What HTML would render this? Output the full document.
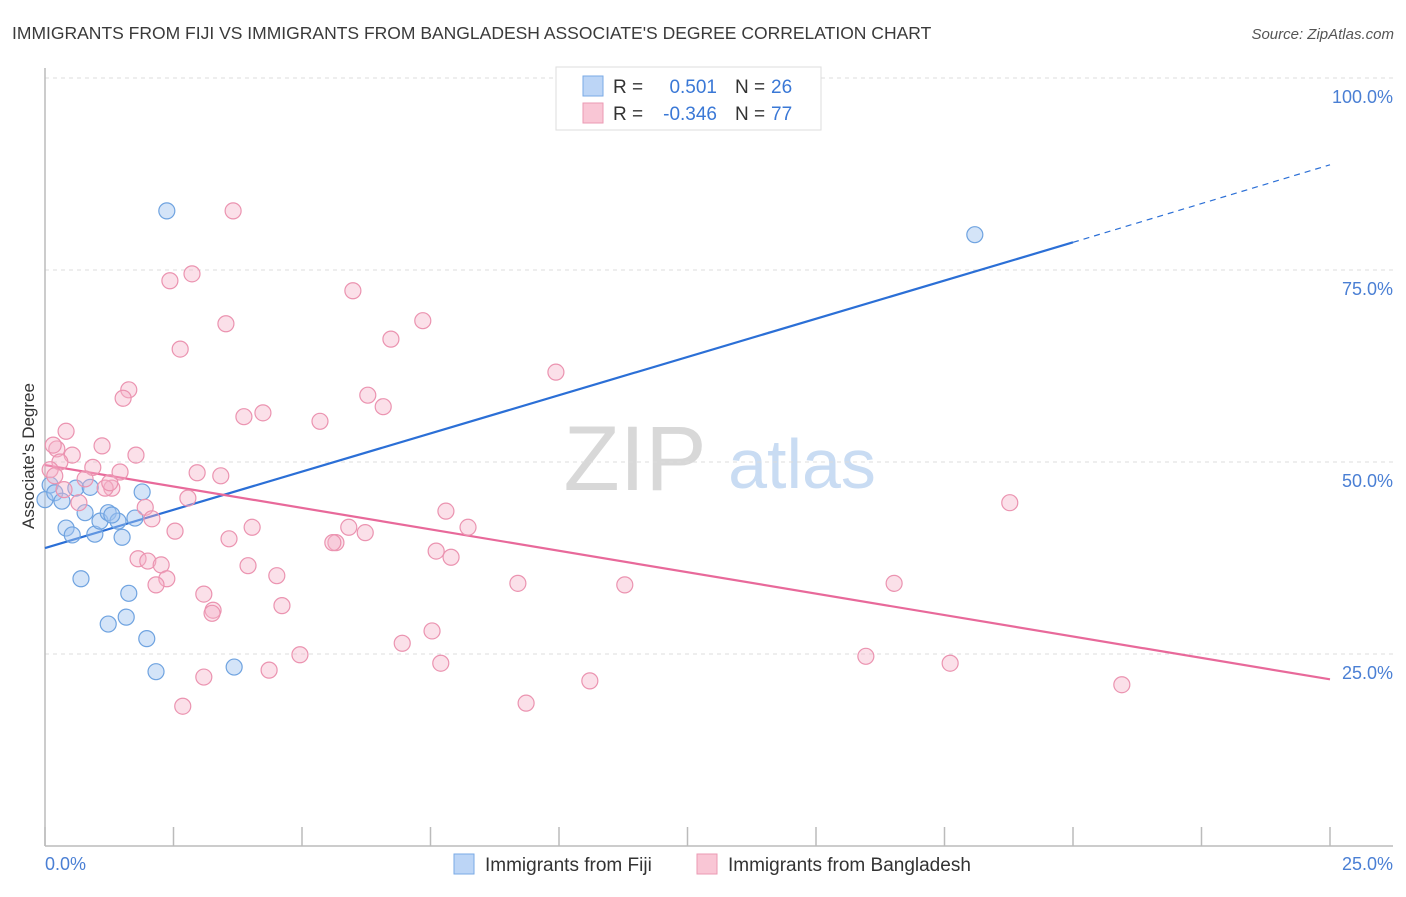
<!DOCTYPE html>
<html><head><meta charset="utf-8"><style>
body{margin:0;background:#fff;font-family:"Liberation Sans",sans-serif;}
svg text{font-family:"Liberation Sans",sans-serif;}
</style></head><body>
<svg id="chart" width="1406" height="892" xmlns="http://www.w3.org/2000/svg">
<text x="12" y="39" font-size="17.5" fill="#3a3a3a">IMMIGRANTS FROM FIJI VS IMMIGRANTS FROM BANGLADESH ASSOCIATE'S DEGREE CORRELATION CHART</text>
<text x="1394" y="39" font-size="15" font-style="italic" fill="#555" text-anchor="end">Source: ZipAtlas.com</text>
<g>
<text x="635" y="490" font-size="92" font-family="Liberation Serif" fill="#d8d8d8" text-anchor="middle">ZIP</text>
<text x="802" y="488" font-size="70" fill="#c9dcf3" text-anchor="middle">atlas</text>
</g>
<g id="grid"></g>
<g id="axes"></g>
<g id="lines"></g>
<g id="pts"></g>
<text transform="translate(34,456) rotate(-90)" font-size="17" fill="#333" text-anchor="middle">Associate's Degree</text>
<g>
<rect x="556" y="67" width="265" height="63" fill="#fff" stroke="#ddd"/>
<rect x="583" y="76" width="20" height="20" fill="#bcd5f6" stroke="#7aaae6"/>
<rect x="583" y="103" width="20" height="20" fill="#f9c6d5" stroke="#eb9ab3"/>
<text x="613" y="93" font-size="19" fill="#333">R =</text>
<text x="717" y="93" font-size="19" fill="#3a78d6" text-anchor="end">0.501</text>
<text x="735" y="93" font-size="19" fill="#333">N =</text>
<text x="771" y="93" font-size="19" fill="#3a78d6">26</text>
<text x="613" y="120" font-size="19" fill="#333">R =</text>
<text x="717" y="120" font-size="19" fill="#3a78d6" text-anchor="end">-0.346</text>
<text x="735" y="120" font-size="19" fill="#333">N =</text>
<text x="771" y="120" font-size="19" fill="#3a78d6">77</text>
</g>
<g>
<rect x="454" y="854" width="20" height="20" fill="#bcd5f6" stroke="#7aaae6"/>
<text x="485" y="871" font-size="19" fill="#333">Immigrants from Fiji</text>
<rect x="697" y="854" width="20" height="20" fill="#f9c6d5" stroke="#eb9ab3"/>
<text x="728" y="871" font-size="19" fill="#333">Immigrants from Bangladesh</text>
</g>
</svg>
<script>
const yTicks=[25,50,75,100];
const yTickLabels=["25.0%","50.0%","75.0%","100.0%"];
const xTicks=[0,2.5,5,7.5,10,12.5,15,17.5,20,22.5,25];
const fijiX=[2.37,18.09,0,0.1,0.19,0.33,0.6,0.88,1.89,0.41,0.53,0.78,0.97,1.07,1.23,1.42,1.5,1.75,0.7,1.63,1.23,1.58,1.98,2.16,3.68,1.3];
const fijiY=[82.7,79.6,45.1,47.0,46.0,44.9,46.6,46.7,46.1,41.4,40.5,43.4,40.6,42.3,43.4,42.3,40.2,42.7,34.8,32.9,28.9,29.8,27.0,22.7,23.3,43.1];
const bangX=[3.66,2.43,2.86,5.99,3.52,2.63,7.35,6.73,9.94,1.63,1.52,6.28,6.58,3.87,4.24,5.35,0.41,0.23,0.53,1.11,1.77,0.93,1.46,0.29,0.1,0.19,1.3,1.17,0.78,2.96,3.42,2.78,1.95,2.08,2.53,3.58,4.03,5.91,5.66,6.23,7.8,8.23,7.61,7.9,1.81,2.0,2.26,2.37,2.16,3.95,4.51,3.09,3.27,3.25,4.61,9.2,11.28,16.52,18.77,7.53,6.95,4.96,4.36,7.7,3.09,2.68,10.6,9.36,15.97,17.61,20.95,5.6,0.66,1.26,0.16,0.37];
const bangY=[82.7,73.6,74.5,72.3,68.0,64.7,68.4,66.0,61.7,59.4,58.3,58.7,57.2,55.9,56.4,55.3,54.0,51.7,50.9,52.1,50.9,49.3,48.7,50.0,49.0,48.2,46.6,46.6,47.8,48.6,48.2,45.3,44.1,42.6,41.0,40.0,41.5,41.5,39.5,40.8,43.6,41.5,38.4,37.6,37.4,37.1,36.6,34.8,34.0,36.5,35.2,32.8,30.7,30.3,31.3,34.2,34.0,34.2,44.7,28.0,26.4,24.9,22.9,23.8,22.0,18.2,21.5,18.6,24.7,23.8,21.0,39.5,44.7,47.3,52.2,46.4];
const fijiTrendX=[0,20,25], fijiTrendY=[38.8,78.6,88.7];
const bangTrendX=[0,25], bangTrendY=[49.6,21.7];
const NS="http://www.w3.org/2000/svg";
const sx=v=>45+v*51.4, sy=v=>846-v*7.68;
function mk(tag,attrs,parent){const e=document.createElementNS(NS,tag);for(const k in attrs)e.setAttribute(k,attrs[k]);parent.appendChild(e);return e;}
const grid=document.getElementById('grid'),axes=document.getElementById('axes'),lines=document.getElementById('lines'),pts=document.getElementById('pts');
yTicks.forEach((t,i)=>{
 const l=mk('line',{x1:45,x2:1393,y1:sy(t),y2:sy(t),stroke:'#dcdcdc','stroke-dasharray':'4,4'},grid);
 
 
 const tx=mk('text',{x:1393,y:sy(t)+25,'font-size':18,fill:'#4a7fd4','text-anchor':'end'},axes);
 tx.textContent=yTickLabels[i];
 
 
});
mk('line',{x1:45,x2:45,y1:68,y2:846,stroke:'#bbb','stroke-width':1.5},axes);
mk('line',{x1:45,x2:1393,y1:846,y2:846,stroke:'#bbb','stroke-width':1.5},axes);
xTicks.forEach(t=>{
 const l=mk('line',{x1:sx(t),x2:sx(t),y1:827,y2:846,stroke:'#bbb','stroke-width':1.5},axes);
 
 
});
const xl0=mk('text',{x:45,y:870,'font-size':18,fill:'#4a7fd4'},axes);xl0.textContent='0.0%';


const xl1=mk('text',{x:1393,y:870,'font-size':18,fill:'#4a7fd4','text-anchor':'end'},axes);xl1.textContent='25.0%';


fijiX.forEach((x,i)=>{
 const c=mk('circle',{cx:sx(x),cy:sy(fijiY[i]),r:8,fill:'rgba(160,196,240,0.45)',stroke:'#6fa3e0','stroke-width':1.2},pts);
 
 
});
bangX.forEach((x,i)=>{
 const c=mk('circle',{cx:sx(x),cy:sy(bangY[i]),r:8,fill:'rgba(245,178,200,0.4)',stroke:'#eb93b0','stroke-width':1.2},pts);
 
 
});
const f1=mk('line',{x1:sx(fijiTrendX[0]),y1:sy(fijiTrendY[0]),x2:sx(fijiTrendX[1]),y2:sy(fijiTrendY[1]),stroke:'#2b6fd6','stroke-width':2.2},lines);


const f2=mk('line',{x1:sx(fijiTrendX[1]),y1:sy(fijiTrendY[1]),x2:sx(fijiTrendX[2]),y2:sy(fijiTrendY[2]),stroke:'#2b6fd6','stroke-width':1.2,'stroke-dasharray':'6,5'},lines);


const b1=mk('line',{x1:sx(bangTrendX[0]),y1:sy(bangTrendY[0]),x2:sx(bangTrendX[1]),y2:sy(bangTrendY[1]),stroke:'#e8699a','stroke-width':2.2},lines);


</script>
</body></html>
